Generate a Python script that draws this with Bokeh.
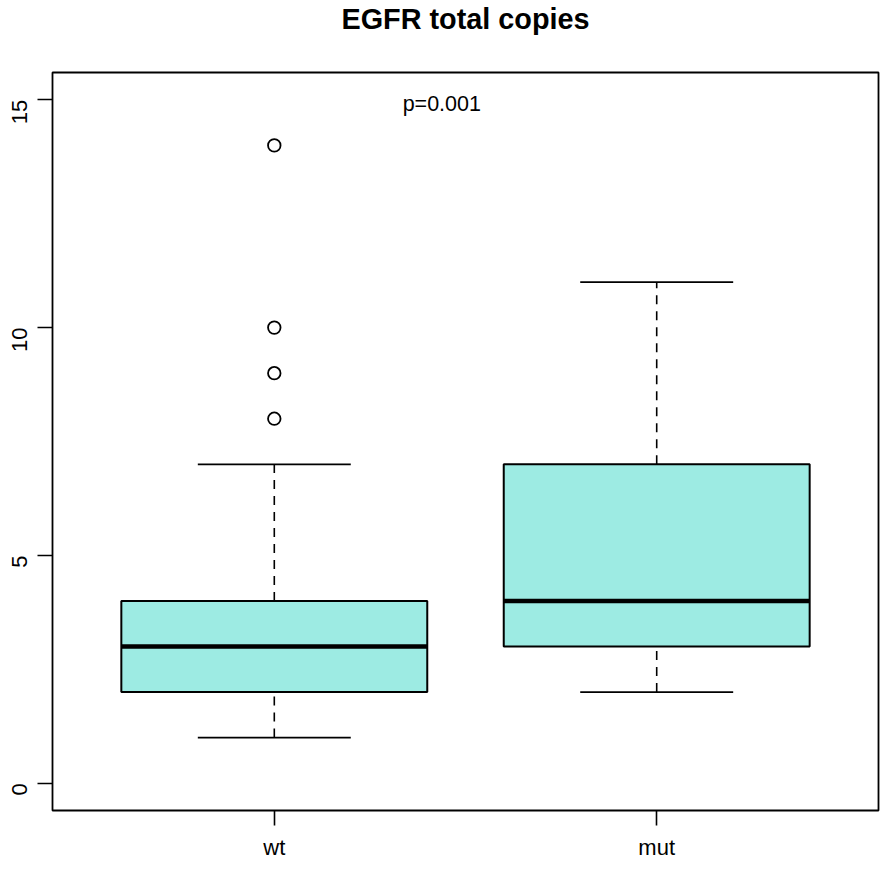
from bokeh.plotting import figure
from bokeh.models import Range1d, FixedTicker, ColumnDataSource, Label, Title
from bokeh.embed import file_html
from bokeh.resources import INLINE
import math

groups = ["wt", "mut"]
whisker_low = [1, 2]
q1 = [2, 3]
median = [3, 4]
q3 = [4, 7]
whisker_high = [7, 11]
outlier_group = ["wt", "wt", "wt", "wt"]
outlier_values = [8, 9, 10, 14]
y_ticks = [0, 5, 10, 15]
p_text = "p=0.001"
title_text = "EGFR total copies"

FILL = "#9DEBE3"
xpos = [i + 1 for i in range(len(groups))]
box_half = 0.4
cap_half = 0.2

src = ColumnDataSource(dict(
    x=xpos,
    left=[x - box_half for x in xpos],
    right=[x + box_half for x in xpos],
    cap_l=[x - cap_half for x in xpos],
    cap_r=[x + cap_half for x in xpos],
    wlo=whisker_low, q1=q1, med=median, q3=q3, whi=whisker_high,
))

p = figure(width=880, height=862, output_backend="svg", toolbar_location=None,
           x_range=Range1d(0.42, 2.58), y_range=Range1d(-0.6, 15.6),
           min_border_left=52, min_border_right=2, min_border_top=0,
           min_border_bottom=0, title=None)

# spacer panel next to the frame, then the real title above it
p.add_layout(Title(text=" ", text_font_size="1px", standoff=35), "above")
p.add_layout(Title(text=title_text, text_font="Liberation Sans",
                   text_font_style="bold", text_font_size="28.8px",
                   align="center", standoff=0, text_color="black"), "above")

p.grid.visible = False
p.outline_line_color = "black"
p.outline_line_width = 1.8
p.background_fill_color = "white"
p.border_fill_color = "white"

# whiskers
p.segment(x0="x", x1="x", y0="q3", y1="whi", source=src, line_color="black",
          line_width=1.6, line_dash="9 7")
p.segment(x0="x", x1="x", y0="wlo", y1="q1", source=src, line_color="black",
          line_width=1.6, line_dash="9 7")
p.segment(x0="cap_l", x1="cap_r", y0="whi", y1="whi", source=src, line_color="black", line_width=1.8)
p.segment(x0="cap_l", x1="cap_r", y0="wlo", y1="wlo", source=src, line_color="black", line_width=1.8)

# boxes
p.quad(left="left", right="right", bottom="q1", top="q3", source=src,
       fill_color=FILL, line_color="black", line_width=2)
p.segment(x0="left", x1="right", y0="med", y1="med", source=src,
          line_color="black", line_width=4.5)

# outliers
ox = [xpos[groups.index(g)] for g in outlier_group]
p.scatter(ox, outlier_values, marker="circle", size=12.5, fill_color=None,
          line_color="black", line_width=1.8)

p.add_layout(Label(x=1.438, y=14.9, text=p_text, text_align="center",
                   text_baseline="middle", text_font_size="21.5px",
                   text_font="Liberation Sans", text_color="black"))

# axes
p.xaxis.ticker = FixedTicker(ticks=xpos)
p.xaxis.major_label_overrides = {x: g for x, g in zip(xpos, groups)}
p.yaxis.ticker = FixedTicker(ticks=y_ticks)
p.yaxis.major_label_orientation = math.pi / 2
for ax in (p.xaxis[0], p.yaxis[0]):
    ax.axis_line_color = None
    ax.major_tick_in = 0
    ax.major_tick_out = 15
    ax.major_tick_line_color = "black"
    ax.major_tick_line_width = 1.6
    ax.minor_tick_line_color = None
    ax.major_label_text_font = "Liberation Sans"
    ax.major_label_text_font_size = "22px"
    ax.major_label_text_color = "black"
p.xaxis.major_label_standoff = 9
p.yaxis.major_label_standoff = 18

open("out.html", "w").write(file_html(p, INLINE))
